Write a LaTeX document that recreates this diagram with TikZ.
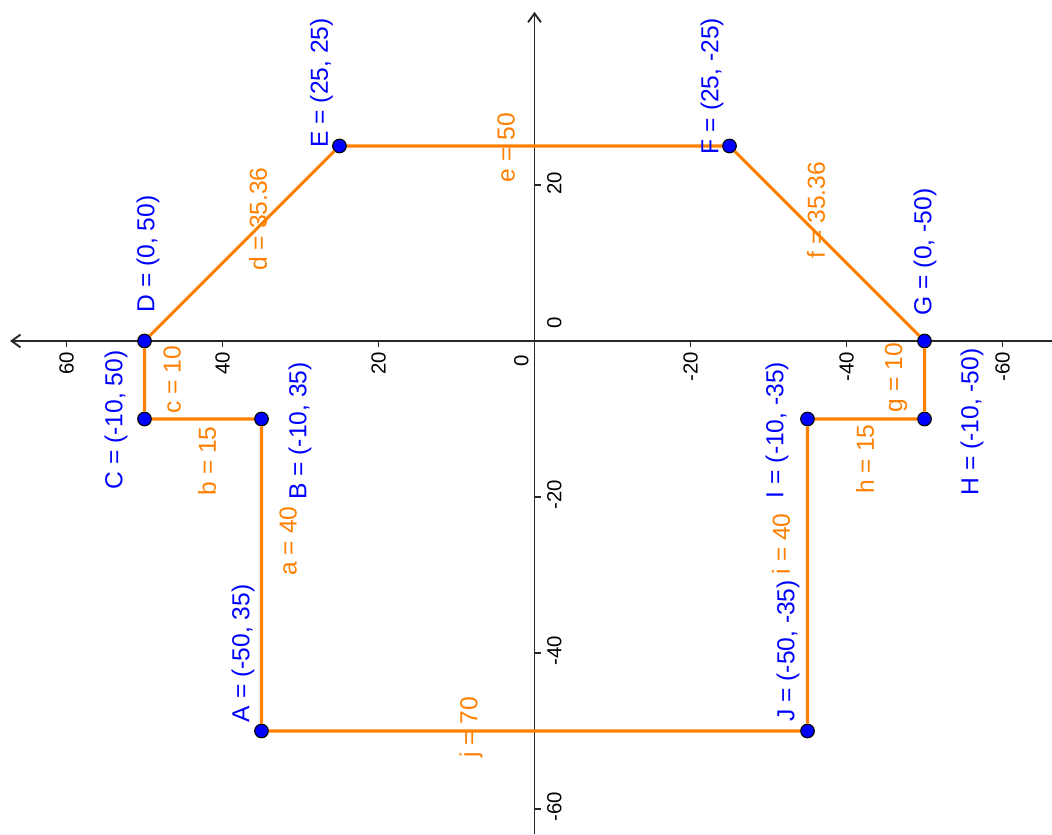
\documentclass[tikz,border=0pt]{standalone}
\usepackage{fontspec}
\setmainfont{Liberation Sans}
\usepackage{xcolor}
\usepackage{tikz}
\usetikzlibrary{arrows.meta}

\definecolor{ptblue}{RGB}{0,0,255}
\definecolor{segorange}{RGB}{255,128,0}
\definecolor{axisgray}{RGB}{40,40,40}

\begin{document}
\begin{tikzpicture}[
  x={(0cm,0.195cm)}, y={(-0.195cm,0cm)},
  axis/.style={draw=axisgray, line width=1.35pt},
  arr/.style={axis, -{Straight Barb[length=0.22cm, width=0.32cm]}},
  seg/.style={draw=segorange, line width=2.2pt},
  vertex/.style={circle, draw=black, fill=ptblue, line width=0.8pt, minimum size=0.34cm, inner sep=0pt},
  ptlabel/.style={text=ptblue, rotate=90, inner sep=0pt, font=\fontsize{17.5}{21}\selectfont},
  seglabel/.style={text=segorange, rotate=90, inner sep=0pt, font=\fontsize{17.5}{21}\selectfont},
  numlabel/.style={text=black, rotate=90, inner sep=0pt, font=\fontsize{14.5}{17}\selectfont},
]
\useasboundingbox (-63.21,68.53) rectangle (43.72,-66.35);

% Axes
\coordinate (xlo) at (-63.21,0);
\coordinate (xhi) at (42.2,0);
\coordinate (ylo) at (0,-66.35);
\coordinate (yhi) at (0,67.24);
\draw[arr] (xlo) -- (xhi);
\draw[arr] (ylo) -- (yhi);

\foreach \v in {60,40,20,-20,-40,-60} {
  \draw[axis] (0,\v) -- (-0.8,\v);
  \node[numlabel, anchor=east] at (-1.35,\v) {\v};
}
\foreach \v in {20,-20,-40,-60} {
  \draw[axis] (\v,0) -- (\v,-0.8);
  \node[numlabel, anchor=north] at (\v+0.25,-1.6) {\v};
}
\node[numlabel, anchor=east] (zeroy) at (-1.75,1.67) {0};
\node[numlabel, anchor=north] (zerox) at (2.31,-1.6) {0};

% Points
\node[vertex] (A) at (-50,35) {};
\node[vertex] (B) at (-10,35) {};
\node[vertex] (C) at (-10,50) {};
\node[vertex] (D) at (0,50) {};
\node[vertex] (E) at (25,25) {};
\node[vertex] (F) at (25,-25) {};
\node[vertex] (G) at (0,-50) {};
\node[vertex] (H) at (-10,-50) {};
\node[vertex] (I) at (-10,-35) {};
\node[vertex] (J) at (-50,-35) {};

% Polygon
\draw[seg] (A) -- (B) -- (C) -- (D) -- (E) -- (F) -- (G) -- (H) -- (I) -- (J) -- (A);

% Point labels
\node[ptlabel] (labA) at (-40.06,37.37) {A = (-50, 35)};
\node[ptlabel] (labB) at (-11.54,30.06) {B = (-10, 35)};
\node[ptlabel] (labC) at (-10.13,53.65) {C = (-10, 50)};
\node[ptlabel] (labD) at (11.15,49.55) {D = (0, 50)};
\node[ptlabel] (labE) at (33.08,27.31) {E = (25, 25)};
\node[ptlabel] (labF) at (32.69,-22.76) {F = (25, -25)};
\node[ptlabel] (labG) at (11.41,-50.06) {G = (0, -50)};
\node[ptlabel] (labH) at (-10.38,-56.09) {H = (-10, -50)};
\node[ptlabel] (labI) at (-11.41,-31.09) {I = (-10, -35)};
\node[ptlabel] (labJ) at (-39.74,-32.5) {J = (-50, -35)};

% Segment labels
\node[seglabel] (laba) at (-25.64,31.6) {a = 40};
\node[seglabel] (labb) at (-15.38,41.99) {b = 15};
\node[seglabel] (labc) at (-5.0,46.47) {c = 10};
\node[seglabel] (labd) at (15.64,35.45) {d = 35.36};
\node[seglabel] (labe) at (24.81,3.65) {e = 50};
\node[seglabel] (labf) at (16.79,-36.09) {f = 35.36};
\node[seglabel] (labg) at (-4.68,-46.35) {g = 10};
\node[seglabel] (labh) at (-15.13,-42.37) {h = 15};
\node[seglabel] (labi) at (-26.0,-31.6) {i = 40};
\node[seglabel] (labj) at (-49.55,8.14) {j = 70};

\end{tikzpicture}
\end{document}
